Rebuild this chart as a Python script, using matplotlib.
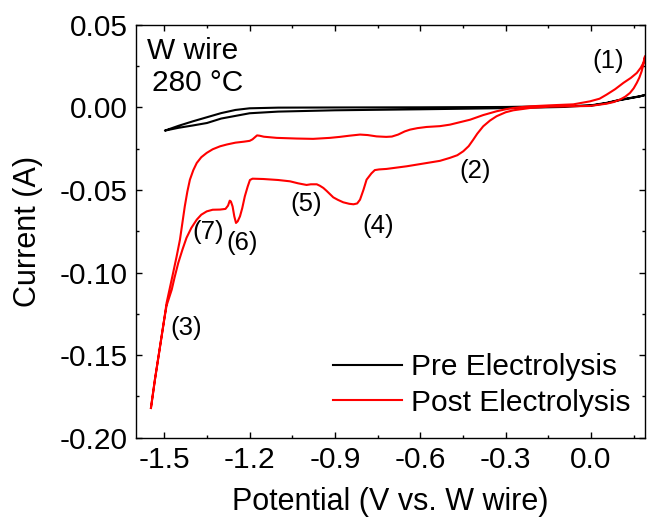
import matplotlib
matplotlib.use("Agg")
import matplotlib.pyplot as plt
from matplotlib.ticker import MultipleLocator, FuncFormatter

plt.rcParams['font.family'] = ['Liberation Sans', 'DejaVu Sans']
plt.rcParams['axes.unicode_minus'] = False

# Pre electrolysis CV (two sweep branches)
pre_v_neg = [0.19, 0.172, 0.10, 0.055, 0.0, -0.1, -0.3, -0.6, -0.9, -1.1, -1.2, -1.3, -1.35, -1.4, -1.45, -1.498]
pre_i_neg = [0.0075, 0.0067, 0.0045, 0.0027, 0.0012, 0.0002, -0.0005, -0.0012, -0.0018, -0.0026, -0.0036,
             -0.0068, -0.0095, -0.0110, -0.0124, -0.0141]
pre_v_pos = [-1.498, -1.45, -1.4, -1.35, -1.3, -1.25, -1.2, -1.1, -0.9, -0.6, -0.3, 0.0, 0.055, 0.1, 0.172, 0.19]
pre_i_pos = [-0.0141, -0.0112, -0.0085, -0.0060, -0.0035, -0.0016, -0.0006, -0.0002, -0.0001, 0.0000, 0.0002,
             0.0010, 0.0025, 0.0043, 0.0066, 0.0074]

# Post electrolysis CV: anodic sweep
post_v_pos = [-1.547, -1.533, -1.515, -1.500, -1.492, -1.480, -1.469, -1.457, -1.445, -1.436, -1.428, -1.419,
              -1.410, -1.398, -1.386, -1.370, -1.351, -1.330, -1.304, -1.280, -1.250, -1.220, -1.200, -1.190,
              -1.181, -1.174, -1.165, -1.150, -1.105, -1.035, -0.977, -0.918, -0.883, -0.850, -0.812, -0.785,
              -0.754, -0.720, -0.700, -0.678, -0.655, -0.636, -0.610, -0.578, -0.550, -0.531, -0.496, -0.460,
              -0.440, -0.425, -0.400, -0.379, -0.355, -0.332, -0.300, -0.273, -0.240, -0.214, -0.144, -0.062,
              -0.004, 0.030, 0.055, 0.085, 0.114, 0.140, 0.161, 0.175, 0.184, 0.19]
post_i_pos = [-0.1820, -0.1648, -0.1447, -0.1280, -0.1184, -0.1090, -0.1002, -0.0905, -0.0801, -0.0695, -0.0599,
              -0.0510, -0.0438, -0.0380, -0.0337, -0.0302, -0.0276, -0.0254, -0.0236, -0.0225, -0.0214, -0.0208,
              -0.0203, -0.0194, -0.0180, -0.0170, -0.0172, -0.0178, -0.0185, -0.0189, -0.0191, -0.0185, -0.0179,
              -0.0172, -0.0165, -0.0168, -0.0176, -0.0179, -0.0177, -0.0165, -0.0146, -0.0135, -0.0126, -0.0119,
              -0.0116, -0.0114, -0.0105, -0.0090, -0.0082, -0.0075, -0.0060, -0.0047, -0.0035, -0.0024, -0.0012,
              -0.0004, 0.0002, 0.0006, 0.0012, 0.0018, 0.0036, 0.0052, 0.0077, 0.0110, 0.0148, 0.0178, 0.0208,
              0.0240, 0.0269, 0.0310]

# Post electrolysis CV: cathodic sweep
post_v_neg = [0.19, 0.185, 0.178, 0.170, 0.161, 0.150, 0.137, 0.120, 0.102, 0.080, 0.055, -0.004, -0.144, -0.214,
              -0.273, -0.300, -0.332, -0.355, -0.379, -0.400, -0.414, -0.430, -0.449, -0.470, -0.496, -0.531,
              -0.578, -0.648, -0.719, -0.745, -0.760, -0.772, -0.789, -0.800, -0.812, -0.822, -0.835, -0.850,
              -0.871, -0.890, -0.906, -0.918, -0.930, -0.941, -0.953, -0.964, -0.985, -1.000, -1.030, -1.058,
              -1.100, -1.152, -1.190, -1.199, -1.207, -1.217, -1.226, -1.234, -1.242, -1.248, -1.254, -1.260,
              -1.266, -1.270, -1.276, -1.285, -1.304, -1.330, -1.351, -1.370, -1.386, -1.405, -1.422, -1.436,
              -1.451, -1.464, -1.474, -1.492, -1.500, -1.515, -1.533, -1.547]
post_i_neg = [0.0310, 0.0265, 0.0218, 0.0180, 0.0148, 0.0115, 0.0087, 0.0064, 0.0047, 0.0032, 0.0022, 0.0008,
              0.0004, -0.0004, -0.0018, -0.0030, -0.0054, -0.0080, -0.0115, -0.0160, -0.0196, -0.0235, -0.0266,
              -0.0290, -0.0306, -0.0324, -0.0337, -0.0357, -0.0373, -0.0376, -0.0380, -0.0400, -0.0438, -0.0500,
              -0.0559, -0.0582, -0.0587, -0.0584, -0.0575, -0.0560, -0.0545, -0.0525, -0.0505, -0.0488, -0.0475,
              -0.0466, -0.0466, -0.0470, -0.0460, -0.0448, -0.0440, -0.0434, -0.0432, -0.0440, -0.0480, -0.0539,
              -0.0610, -0.0660, -0.0690, -0.0700, -0.0660, -0.0600, -0.0570, -0.0565, -0.0595, -0.0615, -0.0619,
              -0.0620, -0.0630, -0.0650, -0.0680, -0.0730, -0.0790, -0.0860, -0.0942, -0.1030, -0.1104, -0.1200,
              -0.1280, -0.1447, -0.1648, -0.1820]

# Peak labels
peak_labels = ["(1)", "(2)", "(3)", "(4)", "(5)", "(6)", "(7)"]
peak_v = [0.06, -0.408, -1.422, -0.748, -1.002, -1.225, -1.346]
peak_i = [0.0279, -0.0387, -0.1336, -0.0720, -0.0583, -0.0821, -0.0757]


def tick_fmt(decimals):
    def f(val, pos):
        s = f"{val:.{decimals}f}"
        if float(s) == 0:
            s = s.lstrip('-')
        return s
    return FuncFormatter(f)


fig = plt.figure(figsize=(6.47, 5.19), dpi=100)
ax = fig.add_axes([0.210, 0.1566, 0.787, 0.7958])

ax.plot(pre_v_neg + pre_v_pos[1:], pre_i_neg + pre_i_pos[1:], color='black', lw=1.5,
        label='Pre Electrolysis')
ax.plot(post_v_pos + post_v_neg[1:], post_i_pos + post_i_neg[1:], color='red', lw=1.5,
        label='Post Electrolysis')

for lab, v, i in zip(peak_labels, peak_v, peak_i):
    ax.text(v, i, lab, fontsize=18.5, ha='center', va='center')

ax.text(0.021, 0.937, 'W wire', transform=ax.transAxes, fontsize=21.5, ha='left', va='center')
ax.text(0.031, 0.858, '280 °C', transform=ax.transAxes, fontsize=21.5, ha='left', va='center')

ax.set_xlim(-1.6, 0.19)
ax.set_ylim(-0.20, 0.05)
ax.xaxis.set_major_locator(MultipleLocator(0.3))
ax.xaxis.set_minor_locator(MultipleLocator(0.15))
ax.yaxis.set_major_locator(MultipleLocator(0.05))
ax.yaxis.set_minor_locator(MultipleLocator(0.025))
ax.xaxis.set_major_formatter(tick_fmt(1))
ax.yaxis.set_major_formatter(tick_fmt(2))
ax.tick_params(which='both', direction='in', top=True, right=True, width=1.0)
ax.tick_params(which='major', length=4.5, labelsize=21.5, pad=6)
ax.tick_params(which='minor', length=2.5)
for s in ax.spines.values():
    s.set_linewidth(1.0)

ax.set_xlabel('Potential (V vs. W wire)', fontsize=22, labelpad=9)
ax.set_ylabel('Current (A)', fontsize=22, labelpad=12)

ax.legend(loc='center left', bbox_to_anchor=(0.3876, 0.1276), frameon=False, fontsize=21.5,
          borderpad=0, borderaxespad=0, handlelength=2.3, handletextpad=0.3, labelspacing=0.25)

fig.savefig('out.png', dpi=100)
